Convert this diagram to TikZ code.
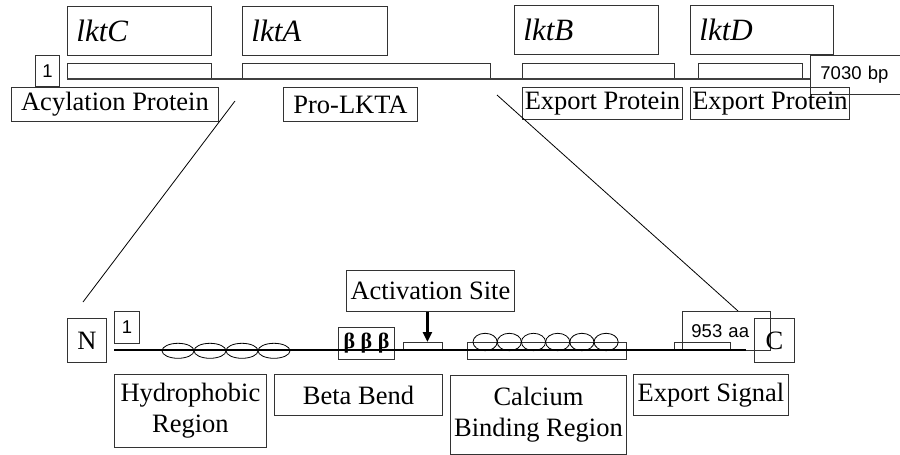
\documentclass[tikz,border=0pt]{standalone}
\usepackage{fontspec}
\setmainfont{Liberation Serif}
\newfontfamily\arialf{Liberation Sans}
\usetikzlibrary{arrows.meta}
\begin{document}
\begin{tikzpicture}[x=1pt,y=-1pt,
  bx/.style={draw=black!80, line width=0.9pt, inner sep=0pt, align=center, anchor=north west},
  lbl/.style={bx, font=\fontsize{26.5}{31}\selectfont},
  genelbl/.style={bx, font=\fontsize{31}{34}\selectfont\itshape, align=left, inner xsep=9pt, minimum height=49pt},
  small/.style={bx, font=\arialf\fontsize{18.5}{20}\selectfont},
  generect/.style={bx, minimum height=15pt},
  zoomline/.style={draw=black, line width=0.8pt},
  hydro/.style={draw=black, line width=0.8pt}
]
\useasboundingbox (0,0) rectangle (900,455);

% ---------- top: gene map ----------
\node[genelbl, text width=126pt] (lktC) at (67,6) {lktC};
\node[genelbl, text width=127pt] (lktA) at (242,6) {lktA};
\node[genelbl, text width=126pt] (lktB) at (514,5) {lktB};
\node[genelbl, text width=125pt] (lktD) at (690,5) {lktD};

\node[generect, minimum width=144pt] (rC) at (67,63) {};
\node[generect, minimum width=248pt] (rA) at (242,63) {};
\node[generect, minimum width=152pt] (rB) at (522,63) {};
\node[generect, minimum width=104pt] (rD) at (698,63) {};

\node[small, minimum width=24pt, minimum height=31pt] (one1) at (35,55) {1};
\node[small, align=left, text width=80pt, inner xsep=10pt, minimum height=39pt] (bp) at (810,55) {7030 bp};

\draw[draw=black!75, line width=1.8pt] (rC.south west) -- (rC.south west -| bp.west);

\node[lbl, minimum width=207pt, minimum height=34pt] (acyl) at (11,87) {Acylation Protein};
\node[lbl, minimum width=134pt, minimum height=34pt] (pro) at (283,87) {Pro-LKTA};
\node[lbl, minimum width=160pt, minimum height=32pt] (exp1) at (522,87) {Export Protein};
\node[lbl, minimum width=159pt, minimum height=32pt] (exp2) at (690,87) {Export Protein};

% ---------- zoom lines ----------
\coordinate (zl1) at (235,101);
\coordinate (zl2) at (83,302);
\coordinate (zr1) at (497,95);
\coordinate (zr2) at (738,311);
\draw[zoomline] (zl1) -- (zl2);
\draw[zoomline] (zr1) -- (zr2);

% ---------- bottom: protein ----------
\node[lbl, minimum width=39pt, minimum height=44pt] (N) at (67,318) {N};
\node[small, minimum width=25pt, minimum height=32pt] (one2) at (114,311) {1};

\node[bx, minimum width=56pt, minimum height=32pt, font=\fontsize{22}{24}\selectfont\bfseries] (beta) at (338,327) {\raisebox{-5pt}{β β β}};
\node[bx, minimum width=39pt, minimum height=8pt] (actr) at (403,342) {};
\node[bx, minimum width=159pt, minimum height=17pt] (car) at (467,342) {};
\node[bx, minimum width=56pt, minimum height=8pt] (expr) at (674,342) {};
\node[small, align=left, text width=70pt, inner xsep=9pt, minimum height=39pt] (aa) at (682,311) {953 aa};

\coordinate (p1) at (114,350);
\coordinate (p2) at (746,350);
\draw[line width=2.8pt, black] (p1) -- (p2);

\foreach \cx in {178,210,242,274}
  \draw[hydro] (\cx,350.8) ellipse [x radius=16, y radius=7.5];
\foreach \cx in {485.1,509.3,533.5,557.7,581.9,606.1}
  \draw[hydro] (\cx,342) ellipse [x radius=12.1, y radius=8.7];

\node[lbl, minimum width=40pt, minimum height=44pt] (C) at (754,318) {C};

\node[lbl, minimum width=168pt, minimum height=41pt] (act) at (346,270) {Activation Site};
\draw[line width=2.5pt, -{Triangle[length=10pt,width=9pt]}] ([xshift=-3pt]act.south) -- ([xshift=4.5pt]actr.north);

\node[lbl, minimum width=152pt, minimum height=73pt] (hyd) at (114,374) {Hydrophobic\\Region};
\node[lbl, minimum width=168pt, minimum height=41pt] (bb) at (274,374) {Beta Bend};
\node[lbl, minimum width=176pt, minimum height=79pt] (cbr) at (450,375) {Calcium\\Binding Region};
\node[lbl, minimum width=155pt, minimum height=41pt] (es) at (633,374) {Export Signal};
\end{tikzpicture}
\end{document}
